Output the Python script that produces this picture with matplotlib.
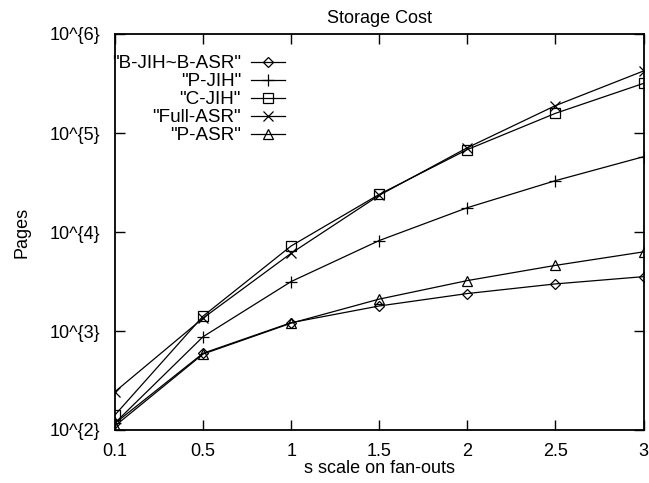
import matplotlib
matplotlib.use("Agg")
import matplotlib.pyplot as plt
from matplotlib.ticker import NullLocator

plt.rcParams['font.family'] = ['Liberation Sans', 'DejaVu Sans']

# ---- data ----
scales = ["0.1", "0.5", "1", "1.5", "2", "2.5", "3"]
b_jih_b_asr = [117, 596, 1214, 1790, 2390, 2990, 3540]
p_jih = [118, 876, 3160, 8200, 17600, 33000, 57600]
c_jih = [142, 1414, 7230, 24000, 68000, 158000, 317000]
full_asr = [244, 1350, 6100, 23500, 71000, 189000, 423000]
p_asr = [110, 585, 1200, 2100, 3230, 4600, 6300]
ytick_vals = [1e2, 1e3, 1e4, 1e5, 1e6]
ytick_labels = ["10^{2}", "10^{3}", "10^{4}", "10^{5}", "10^{6}"]

series = [
    ('"B-JIH~B-ASR"', b_jih_b_asr, 'D', 5.5),
    ('"P-JIH"', p_jih, '+', 8.5),
    ('"C-JIH"', c_jih, 's', 6.5),
    ('"Full-ASR"', full_asr, 'x', 7.0),
    ('"P-ASR"', p_asr, '^', 7.0),
]

fig = plt.figure(figsize=(6.49, 4.83), dpi=100)
ax = fig.add_axes([115/649, 1-430/483, (643.5-115)/649, (430-34)/483])

xpos = list(range(len(scales)))
handles = []
for label, vals, mk, ms in series:
    h, = ax.plot(xpos, vals, color='black', linewidth=0.9, marker=mk,
                 markersize=ms, markerfacecolor='none', markeredgecolor='black',
                 markeredgewidth=0.9, label=label)
    handles.append(h)

ax.set_yscale('log')
ax.set_ylim(1e2, 1e6)
ax.set_xlim(0, len(scales) - 1)
ax.set_xticks(xpos)
ax.set_xticklabels(scales)
ax.set_yticks(ytick_vals)
ax.set_yticklabels(ytick_labels)
ax.yaxis.set_minor_locator(NullLocator())
ax.xaxis.set_minor_locator(NullLocator())

ax.tick_params(axis='both', which='major', direction='in', length=7, width=1.0,
               top=True, right=True, labelsize=13)
ax.tick_params(axis='y', pad=10.5)
ax.tick_params(axis='x', pad=9.5)
for sp in ax.spines.values():
    sp.set_linewidth(1.3)

ax.set_title("Storage Cost", fontsize=13, pad=8)
ax.set_xlabel("s scale on fan-outs", fontsize=13, labelpad=0)
ax.set_ylabel("Pages", fontsize=13, labelpad=14)

leg = ax.legend(handles=handles, loc='upper left', markerfirst=False,
                frameon=False, fontsize=13.6, handlelength=1.8,
                handletextpad=0.55, labelspacing=0.04, borderaxespad=0.0,
                borderpad=0.0,
                bbox_to_anchor=(112/649, 1-55/483), bbox_transform=fig.transFigure)

fig.savefig("out.png", dpi=100)
